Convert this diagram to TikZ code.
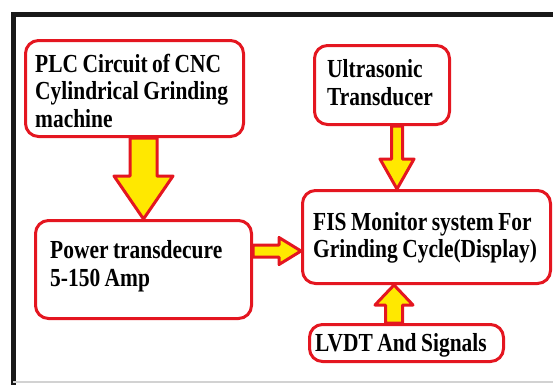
\documentclass[tikz,border=0pt]{standalone}
\usepackage{fontspec}
\setmainfont{Liberation Serif}[FakeStretch=0.825]
\usetikzlibrary{calc,positioning}
\definecolor{boxred}{RGB}{228,22,32}
\definecolor{arrowyellow}{RGB}{255,232,0}
\tikzset{
  block/.style={draw=boxred, line width=3pt, rounded corners=13pt, anchor=north west, inner sep=0pt},
  blocktext/.style={anchor=base west, inner sep=0pt, text width=240pt, align=left,
    font=\bfseries\fontsize{26}{28.5}\selectfont,
    execute at begin node={\spaceskip=4.5pt\relax}},
  fat arrow/.style={draw=boxred, fill=arrowyellow, line width=3pt, line join=round},
  frame/.style={line width=5pt, black!90},
}
% block arrow from #1 to #2: half shaft, half head, head length
\newcommand{\fatarrow}[5]{%
  \coordinate (fa base) at ($(#2)!#5!(#1)$);
  \draw[fat arrow]
    ($(#1)!#3!90:(#2)$) -- ($(fa base)!#3!-90:(#1)$) -- ($(fa base)!#4!-90:(#1)$)
    -- (#2) -- ($(fa base)!#4!90:(#1)$) -- ($(fa base)!#3!90:(#1)$)
    -- ($(#1)!#3!-90:(#2)$) -- cycle;
}

\begin{document}
\begin{tikzpicture}[x=1pt, y=-1pt]
  \useasboundingbox (0,0) rectangle (553,384);

  % outer frame
  \draw[frame] (13,390) -- (13,14.5) -- (560,14.5);
  \draw[gray!35, line width=1.5pt] (13,382) -- (553,382);

  % blocks
  \node[block, minimum width=218pt, minimum height=96pt] (plc) at (24,39) {};
  \node[block, minimum width=135pt, minimum height=79pt] (ultra) at (313,44) {};
  \node[block, minimum width=216pt, minimum height=98pt] (power) at (34,219) {};
  \node[block, minimum width=248pt, minimum height=93pt] (fis) at (301,189) {};
  \node[block, minimum width=194pt, minimum height=37pt] (lvdt) at (308,323) {};

  % block texts
  \node[blocktext] (plc text) at (35,72) {PLC Circuit of CNC\\[-1pt]Cylindrical Grinding\\[-1pt]machine};
  \node[blocktext] (ultra text) at (327,77) {Ultrasonic\\Transducer};
  \node[blocktext] (power text) at (50,258) {Power transdecure\\5-150 Amp};
  \node[blocktext] (fis text) at (313,230) {FIS Monitor system For\\[-1pt]Grinding Cycle(Display)};
  \node[blocktext] (lvdt text) at (315,351) {LVDT And Signals};

  % arrow ends
  \coordinate (plc out) at (power.north |- plc.south);
  \coordinate (ultra out) at ([xshift=15pt]ultra.south);
  \coordinate (ultra in) at (ultra out |- fis.north);
  \coordinate (power out) at ([yshift=18.5pt]power.east);
  \coordinate (power in) at (power out -| fis.west);
  \coordinate (lvdt out) at ([xshift=-12.5pt]lvdt.north);
  \coordinate (lvdt in) at (lvdt out |- fis.south);

  % arrows
  \fatarrow{plc out}{power.north}{13.5pt}{29.5pt}{43pt}
  \fatarrow{ultra out}{ultra in}{5.5pt}{17pt}{30pt}
  \fatarrow{power out}{power in}{6pt}{13.5pt}{22pt}
  \fatarrow{lvdt out}{lvdt in}{8.5pt}{19pt}{20pt}

\end{tikzpicture}
\end{document}
